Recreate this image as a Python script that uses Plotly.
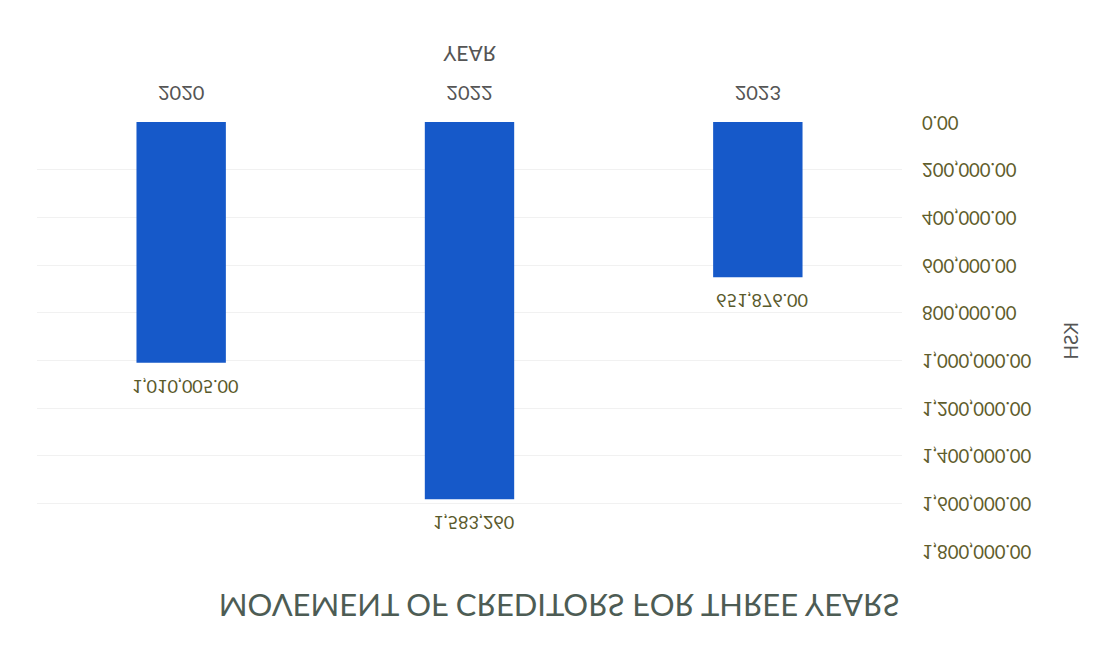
import plotly.graph_objects as go

# Creditors by year (KSH)
years = ["2020", "2022", "2023"]
amounts = [1010005.00, 1583260, 651876.00]
value_labels = ["1,010,005.00", "1,583,260", "651,876.00"]

# Value axis ticks
tick_vals = [0, 200000, 400000, 600000, 800000, 1000000, 1200000, 1400000, 1600000, 1800000]
tick_text = ["0.00", "200,000.00", "400,000.00", "600,000.00", "800,000.00",
             "1,000,000.00", "1,200,000.00", "1,400,000.00", "1,600,000.00", "1,800,000.00"]

FONT = "Lato, 'Open Sans', sans-serif"
LABEL_COLOR = "#5a5a2c"

fig = go.Figure(
    go.Bar(
        x=years,
        y=amounts,
        marker=dict(color="#1659c9", line=dict(width=0)),
        hoverinfo="x+y",
    )
)

# Value labels sitting above each bar (category axis positions are indices)
value_annotations = [
    dict(
        x=i,
        y=amt,
        xref="x",
        yref="y",
        text=lbl,
        showarrow=False,
        xanchor="center",
        yanchor="middle",
        yshift=24,
        xshift=4,
        font=dict(family=FONT, size=18, color=LABEL_COLOR),
    )
    for i, (amt, lbl) in enumerate(zip(amounts, value_labels))
]

fig.update_layout(
    width=1118,
    height=648,
    margin=dict(l=37, r=216, t=97, b=122),
    paper_bgcolor="white",
    plot_bgcolor="white",
    bargap=0.69,
    showlegend=False,
    font=dict(family=FONT, color="#555555"),
    title=dict(
        text="MOVEMENT OF CREDITORS FOR THREE YEARS",
        x=0.5,
        xanchor="center",
        y=1 - 43 / 648,
        yanchor="middle",
        yref="container",
        font=dict(family=FONT, size=31, color="#4d5c54"),
    ),
    xaxis=dict(
        type="category",
        categoryorder="array",
        categoryarray=years,
        range=[-0.5, len(years) - 0.5],
        showgrid=False,
        showline=False,
        zeroline=False,
        ticks="",
        ticklabelstandoff=15,
        tickfont=dict(family=FONT, size=20, color="#555555"),
        title=dict(text="YEAR", font=dict(family=FONT, size=21, color="#555555"), standoff=22),
    ),
    yaxis=dict(
        side="right",
        range=[0, 1800000],
        tickvals=tick_vals,
        ticktext=tick_text,
        showgrid=True,
        gridcolor="#f1f1f1",
        gridwidth=1,
        zeroline=False,
        showline=False,
        ticks="",
        ticklabelstandoff=19,
        tickfont=dict(family=FONT, size=18.5, color="#5f5d2c"),
    ),
    annotations=value_annotations + [
        dict(
            text="KSH",
            xref="paper",
            yref="paper",
            x=(1070 - 37) / (1118 - 37 - 216),
            y=(340 - 122) / (648 - 97 - 122),
            xanchor="center",
            yanchor="middle",
            textangle=-90,
            showarrow=False,
            font=dict(family=FONT, size=19, color="#555555"),
        )
    ],
)

# The chart is shown mirrored top-to-bottom
flip_js = (
    "document.body.style.margin='0';"
    "var d=document.getElementById('{plot_id}');"
    "d.style.transformOrigin='50% 50%';"
    "d.style.transform='scaleY(-1)';"
)

fig.write_html("out.html", post_script=flip_js)
